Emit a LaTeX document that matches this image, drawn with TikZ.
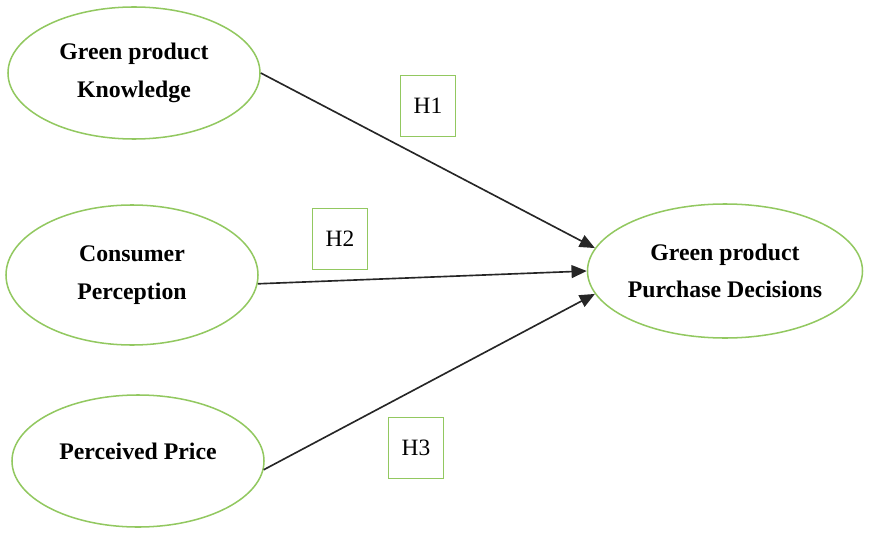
\documentclass[tikz,border=0pt]{standalone}
\usepackage{fontspec}
\setmainfont{Liberation Serif}
\usepackage{tikz}
\usetikzlibrary{arrows.meta,positioning,shapes.geometric}
\definecolor{ovalgreen}{RGB}{146,200,96}

\begin{document}
\begin{tikzpicture}[x=0.03cm,y=-0.03cm,
    construct/.style={ellipse,draw=ovalgreen,line width=1.3pt,inner sep=0pt,
      minimum width=7.56cm,minimum height=3.96cm,align=center,
      font=\fontsize{20.3}{32}\selectfont\bfseries},
    hypbox/.style={rectangle,draw=ovalgreen,line width=1.3pt,
      minimum width=1.65cm,minimum height=1.83cm,font=\fontsize{20}{24}\selectfont},
    effect/.style={draw=black!85,line width=1.4pt,-{Triangle[length=13pt,width=11pt]}}]
  \useasboundingbox (0,0) rectangle (872,536);
  % latent constructs
  \node[construct] (know) at (134,73) {Green product\\Knowledge};
  \node[construct,minimum height=4.2cm] (percep) at (132,275) {Consumer\\Perception};
  \node[construct,text height=0.5cm,text depth=0.6cm] (price) at (138,461) {Perceived Price};
  \node[construct,minimum width=8.22cm,minimum height=4.02cm] (decision) at (725,271) {Green product\\Purchase Decisions};
  % hypotheses
  \node[hypbox] (h1) at (428,106) {H1};
  \node[hypbox] (h2) at (340,239) {H2};
  \node[hypbox] (h3) at (416,448) {H3};
  % paths
  \draw[effect] (know.east) -- (decision.170);
  \draw[effect] (percep.-4) -- (decision.west);
  \draw[effect] (price.-4) -- (decision.190);
\end{tikzpicture}
\end{document}
